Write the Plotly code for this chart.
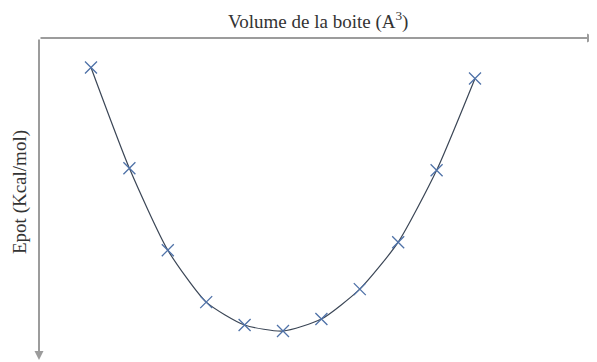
import plotly.graph_objects as go

# Data (arbitrary units, no tick labels shown)
volume = [1, 2, 3, 4, 5, 6, 7, 8, 9, 10, 11]
epot = [264, 163, 81, 29, 6, 0, 12, 42, 89, 161, 253]

x_title = "Volume de la boite (A<sup>3</sup>)"
y_title = "Epot (Kcal/mol)"

axis_color = "#9c9c9c"
font_family = "Liberation Serif, Times New Roman, serif"

# the page body adds an 8px offset, so the figure is sized to fit 597x362
W, H = 589, 354
ML, MR, MT, MB = 31, 0, 30, 2
PW, PH = W - ML - MR, H - MT - MB

fig = go.Figure()
fig.add_trace(go.Scatter(
    x=volume, y=epot,
    mode="lines+markers",
    line=dict(color="#3b4656", width=1.2, shape="spline", smoothing=0.6),
    marker=dict(symbol="x-thin", size=12, line=dict(color="#4f72a8", width=1.3)),
    showlegend=False,
    cliponaxis=False,
))

fig.update_layout(
    width=W, height=H,
    margin=dict(l=ML, r=MR, t=MT, b=MB),
    paper_bgcolor="white", plot_bgcolor="white",
    font=dict(family=font_family, color="#333333"),
    xaxis=dict(
        range=[-0.354, 14.177], side="top", automargin=False,
        showline=False, showgrid=False, zeroline=False,
        showticklabels=False, ticks="",
    ),
    yaxis=dict(
        range=[-29, 293.5], automargin=False,
        showline=False, showgrid=False, zeroline=False,
        showticklabels=False, ticks="",
    ),
)

# axis titles
fig.add_annotation(xref="paper", yref="paper", x=0.5, y=1, yshift=18,
                   xanchor="center", yanchor="middle",
                   text=x_title, showarrow=False,
                   font=dict(size=19, family=font_family, color="#333333"))
fig.add_annotation(xref="paper", yref="paper", x=0, y=0.5, xshift=-19, yshift=7,
                   xanchor="center", yanchor="middle",
                   text=y_title, showarrow=False, textangle=-90,
                   font=dict(size=19, family=font_family, color="#333333"))

# axes drawn as arrows
fig.add_annotation(xref="paper", yref="paper", x=1, y=1, ax=-PW, ay=0,
                   text="", showarrow=True, arrowhead=2, arrowsize=0.9,
                   arrowwidth=2, arrowcolor=axis_color, standoff=0)
fig.add_annotation(xref="paper", yref="paper", x=0, y=0, ax=0, ay=-PH,
                   text="", showarrow=True, arrowhead=2, arrowsize=0.9,
                   arrowwidth=2, arrowcolor=axis_color, standoff=0)

fig.write_html("out.html")
